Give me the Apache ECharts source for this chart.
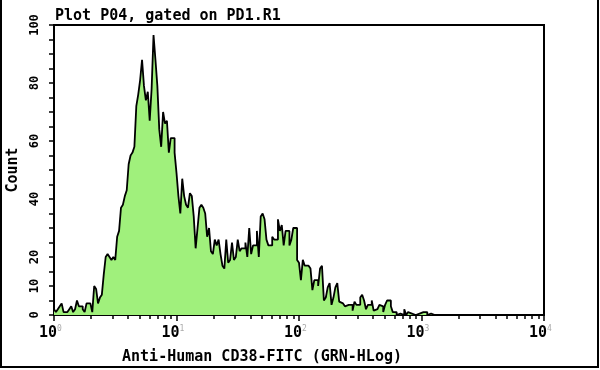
<!DOCTYPE html>
<html><head><meta charset="utf-8">
<script src="https://cdn.jsdelivr.net/npm/echarts@6.0.0/dist/echarts.min.js"></script>
<style>html,body{margin:0;padding:0;background:#fff}#c{width:600px;height:370px}</style>
</head><body><div id="c"></div>
<script>
const plotTitle = 'Plot P04, gated on PD1.R1';
const xName = 'Anti-Human CD38-FITC (GRN-HLog)';
const yName = 'Count';
const channelsPerDecade = 64;
const counts = [
  2,1,2,3,4,1,1,0.5,2,3, 1,2,5,3,3,2,1,4,4,4,
  1,10,9,4,6,7,14,20,21,20, 19,20,19,27,29,37,38,41,43,52,
  55,56,58,72,76,81,88,79,74,77, 67,78,96.5,88,79,64,58,70,66,67,
  56,61,61,56,49,41,35,47,41,38, 37,42,41,34,23,30,37,38,37,35,
  27,30,22,21,26,24,26,21,17,16, 26,18,19,25,19,20,26,22,23,23,
  25,20,30,21,24,24,29,20,34,35, 33,26,24,24,27,26,26,33,29,31,
  24,29,29,24,26,30,30,19,18,12, 19,17,17,17,16,8.6,12,12,10,16,
  17,5,6,9.5,11,3.5,6,9.5,11,4.6, 4,4,3,3.5,3.5,3.5,1.5,4.6,3.5,3.5,
  6,7,5,2,3.5,3.5,5,1.5,2,2, 3.5,3,1,3.5,5,5,3,1,1,0,
  0.5,0.5,0,2,0,1,0.5,1,0,0, 0.5,1,1,1,1,0,0.5,0.5,0,0
];
const xDecades = [0, 1, 2, 3, 4];
const yTickLabels = [0, 10, 20, 40, 60, 80, 100];

const mono = 'DejaVu Sans Mono';
const seriesData = counts.map((c, i) => [i / channelsPerDecade, c]);
seriesData.push([counts.length / channelsPerDecade, 0]);

const minorTicks = [];
for (let d = 0; d < 4; d++) for (let k = 2; k <= 9; k++) minorTicks.push(d + Math.log10(k));

const chart = echarts.init(document.getElementById('c'), null, {renderer: 'canvas'});
chart.setOption({
  animation: false,
  backgroundColor: '#fff',
  title: [
    {text: plotTitle, left: 50, top: 4, textStyle: {fontFamily: mono, fontSize: 15, fontWeight: 'bold', color: '#000'}},
    {text: xName, left: 257, textAlign: 'center', top: 345, textStyle: {fontFamily: mono, fontSize: 15, fontWeight: 'bold', color: '#000'}}
  ],
  grid: {left: 54, right: 56, top: 25, bottom: 55, outerBoundsMode: 'none', containLabel: false,
    show: true, borderColor: '#000', borderWidth: 2, backgroundColor: '#fff'},
  xAxis: [
    {type: 'value', min: 0, max: 4, interval: 1,
     axisLine: {show: true, lineStyle: {color: '#000', width: 2}},
     axisTick: {show: true, length: 6, lineStyle: {color: '#000', width: 1.5}, customValues: xDecades},
     axisLabel: {customValues: xDecades, margin: 10, padding: [0, 7, 0, 0],
       formatter: v => '{b|10}{s|' + Math.round(v) + '}',
       rich: {b: {fontFamily: mono, fontSize: 15, fontWeight: 'bold', color: '#000'}, s: {fontFamily: mono, fontSize: 8, color: '#aaa', verticalAlign: 'top', padding: [0, 0, 8, 0]}}},
     splitLine: {show: false}},
    {type: 'value', min: 0, max: 4, position: 'bottom',
     axisLine: {show: false},
     axisTick: {show: true, length: 4, lineStyle: {color: '#000', width: 1.5}, customValues: minorTicks},
     axisLabel: {show: false}, splitLine: {show: false}}
  ],
  yAxis: {type: 'value', min: 0, max: 100, interval: 5,
    name: yName, nameLocation: 'middle', nameGap: 31, nameRotate: 90,
    nameTextStyle: {fontFamily: mono, fontSize: 15, fontWeight: 'bold', color: '#000'},
    axisLine: {show: true, lineStyle: {color: '#000', width: 2}},
    axisTick: {show: true, length: 5, lineStyle: {color: '#000', width: 1.5}},
    axisLabel: {customValues: yTickLabels, rotate: 90, margin: 13, fontFamily: mono, fontSize: 12, fontWeight: 'bold', color: '#000'},
    splitLine: {show: false}},
  series: [{
    type: 'line', step: 'end', data: seriesData, symbol: 'none', xAxisIndex: 0,
    lineStyle: {color: '#000', width: 1.8},
    areaStyle: {color: '#a0f07c', opacity: 1}
  }],
  graphic: [{type: 'rect', shape: {x: 1, y: -2, width: 597, height: 369}, style: {fill: null, stroke: '#000', lineWidth: 2}, silent: true}]
});
</script></body></html>
